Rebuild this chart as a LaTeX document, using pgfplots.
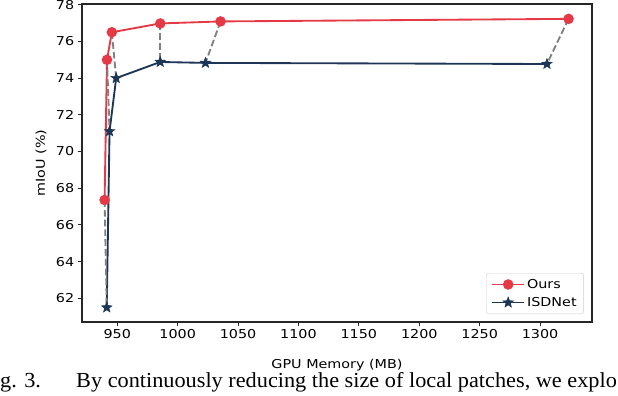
\documentclass[border=0pt]{standalone}
\usepackage{fontspec}
\setmainfont{DejaVu Sans}[FakeStretch=1.17]
\newfontfamily\capfont{Liberation Serif}[FakeStretch=1.04]
\usepackage{pgfplots}
\pgfplotsset{compat=1.18}
\usetikzlibrary{plotmarks}
\definecolor{oursred}{HTML}{E63946}
\definecolor{isdnavy}{HTML}{1D3557}
\definecolor{dashgray}{HTML}{808080}
\pgfdeclareplotmark{fstar}{%
  \pgfpathmoveto{\pgfpointpolar{90}{\pgfplotmarksize}}%
  \pgfpathlineto{\pgfpointpolar{126}{0.42\pgfplotmarksize}}%
  \pgfpathlineto{\pgfpointpolar{162}{\pgfplotmarksize}}%
  \pgfpathlineto{\pgfpointpolar{198}{0.42\pgfplotmarksize}}%
  \pgfpathlineto{\pgfpointpolar{234}{\pgfplotmarksize}}%
  \pgfpathlineto{\pgfpointpolar{270}{0.42\pgfplotmarksize}}%
  \pgfpathlineto{\pgfpointpolar{306}{\pgfplotmarksize}}%
  \pgfpathlineto{\pgfpointpolar{342}{0.42\pgfplotmarksize}}%
  \pgfpathlineto{\pgfpointpolar{18}{\pgfplotmarksize}}%
  \pgfpathlineto{\pgfpointpolar{54}{0.42\pgfplotmarksize}}%
  \pgfpathclose\pgfusepathqfillstroke}
\newcommand{\lblfont}{\fontsize{12.3}{14}\selectfont}
\begin{document}
\begin{tikzpicture}
\useasboundingbox (0,0) rectangle (618bp,396bp);
\clip (0,0) rectangle (618bp,396bp);
\begin{axis}[
  scale only axis,
  width=510bp, height=318bp,
  at={(82bp,74bp)}, anchor=south west,
  xmin=920.8, xmax=1343, ymin=60.71, ymax=78.04,
  xtick={950,1000,...,1300}, ytick={62,64,...,78},
  tick align=outside, tick pos=left,
  major tick length=4.3bp,
  axis line style={line width=1.1bp, black!85},
  every tick/.style={line width=1bp, black!85},
  /pgf/number format/assume math mode=true,
  /pgf/number format/1000 sep={},
  ticklabel style={font=\lblfont},
  xlabel={GPU Memory (MB)},
  ylabel={mIoU (\%)},
  every axis x label/.style={at={(rel axis cs:0.5,0)}, anchor=base, yshift=-46bp, font=\lblfont},
  every axis y label/.style={at={(rel axis cs:0,0.5)}, anchor=center, rotate=90, yshift=41bp, font=\lblfont},
  legend style={at={(0.984,0.025)}, anchor=south east, draw=black!20, fill=white,
    rounded corners=2.5bp, font=\lblfont,
    inner xsep=5bp, inner ysep=4bp, row sep=3.5bp},
  legend cell align=left,
  legend image code/.code={\draw[mark repeat=2,mark phase=2,#1] plot coordinates {(0bp,0bp) (16bp,0bp) (32bp,0bp)};},
]
\addplot[oursred, line width=1.85bp, mark=*, mark size=4.3bp, mark options={solid}] coordinates {
  (939.5,67.36) (941.5,75.0) (945.5,76.5) (985.6,76.98) (1035.5,77.09) (1323.6,77.23)};
\addlegendentry{Ours}
\addplot[isdnavy, line width=1.85bp, mark=fstar, mark size=5.4bp, mark options={solid, line width=0.6bp}] coordinates {
  (941.3,61.5) (943.6,71.1) (949.1,74.0) (985.6,74.88) (1023,74.83) (1305.7,74.77)};
\addlegendentry{ISDNet}
\pgfplotsset{dline/.style={dashgray, line width=1.85bp, dash pattern=on 6.8bp off 3bp, forget plot}}
\addplot[dline] coordinates {(939.5,67.36) (941.3,61.5)};
\addplot[dline] coordinates {(941.5,75.0) (943.6,71.1)};
\addplot[dline] coordinates {(945.5,76.5) (949.1,74.0)};
\addplot[dline] coordinates {(985.6,76.98) (985.6,74.88)};
\addplot[dline] coordinates {(1035.5,77.09) (1023,74.83)};
\addplot[dline] coordinates {(1323.6,77.23) (1305.7,74.77)};
\end{axis}
\node[anchor=base west, inner sep=0pt, font=\capfont\fontsize{21.5}{24}\selectfont] at (0bp,9bp) {g. 3.};
\node[anchor=base west, inner sep=0pt, font=\capfont\fontsize{21.5}{24}\selectfont] at (76bp,9bp) {By continuously reducing the size of local patches, we explo};
\end{tikzpicture}
\end{document}
